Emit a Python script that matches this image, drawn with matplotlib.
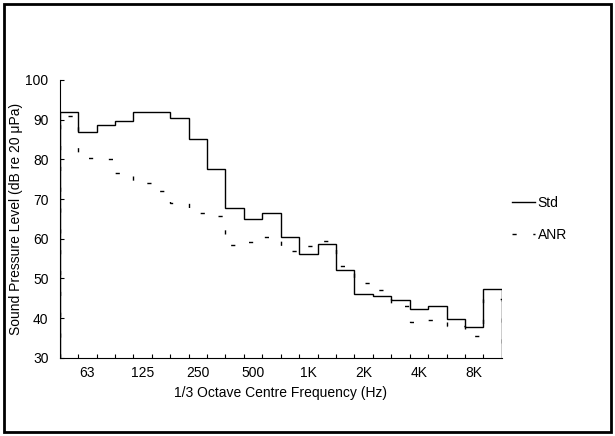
import numpy as np
import matplotlib
matplotlib.use('Agg')
from matplotlib import pyplot as plt
from matplotlib.patches import Rectangle

plt.rcParams['font.family'] = ['Liberation Sans', 'DejaVu Sans']

# 1/3 octave bands, 50 Hz .. 10 kHz
bands = ['50', '63', '80', '100', '125', '160', '200', '250', '315', '400', '500', '630',
         '800', '1K', '1.25K', '1.6K', '2K', '2.5K', '3.15K', '4K', '5K', '6.3K', '8K', '10K']
std = [91.8, 86.8, 88.6, 89.7, 92.0, 92.0, 90.3, 85.1, 77.6, 67.8, 65.0, 66.4,
       60.5, 56.1, 58.8, 52.1, 46.1, 45.6, 44.6, 42.3, 43.1, 39.8, 37.8, 47.4]
anr = [91.0, 80.3, 80.0, 76.5, 74.0, 72.0, 69.1, 66.4, 65.8, 58.4, 59.3, 60.5,
       57.0, 58.2, 59.5, 53.1, 48.8, 47.0, 43.1, 39.1, 39.5, 38.0, 35.5, 44.8]
tick_labels = ['63', '125', '250', '500', '1K', '2K', '4K', '8K']

x = np.arange(len(bands))
edges = np.arange(len(bands) + 1) - 0.5

fig = plt.figure(figsize=(6.15, 4.36), dpi=100)
ax = fig.add_axes([0.097, 0.179, 0.719, 0.638])

ax.stairs(std, edges, baseline=30, color='black', lw=1.0, label='Std')
ax.stairs(anr, edges, baseline=30, color='black', lw=1.0, linestyle=(0, (3, 12)), label='ANR')

ax.set_xlim(-0.5, len(bands) - 0.5)
ax.set_ylim(30, 100)
ax.set_yticks(range(30, 101, 10))
ax.set_xticks([bands.index(t) for t in tick_labels])
ax.set_xticklabels(tick_labels)
ax.set_xticks(edges[1:-1], minor=True)
ax.tick_params(axis='x', which='major', length=0, labelsize=10, pad=6)
ax.tick_params(axis='x', which='minor', direction='in', length=3, width=0.8)
ax.tick_params(axis='y', direction='in', length=3, width=0.8, labelsize=10, pad=8)

for s in ['top', 'right']:
    ax.spines[s].set_visible(False)
for s in ['left', 'bottom']:
    ax.spines[s].set_linewidth(0.8)

ax.set_xlabel('1/3 Octave Centre Frequency (Hz)', fontsize=10, labelpad=4)
ax.set_ylabel('Sound Pressure Level (dB re 20 \u03bcPa)', fontsize=10, labelpad=2)

fig.legend(loc='upper left', bbox_to_anchor=(0.812, 0.579), frameon=False,
           fontsize=10, handlelength=1.65, handletextpad=0.2, labelspacing=1.3)

fig.patches.append(Rectangle((4 / 615, 4 / 436), 1 - 8 / 615, 1 - 8 / 436,
                             transform=fig.transFigure, fill=False,
                             edgecolor='black', lw=2.0))

fig.savefig('out.png', dpi=100)
